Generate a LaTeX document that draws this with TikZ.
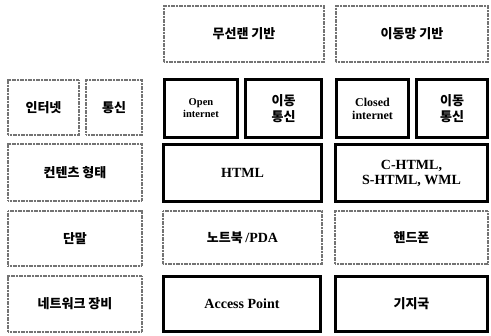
\documentclass[tikz,border=0pt]{standalone}
\usepackage{fontspec}
\setmainfont{Liberation Serif}
\newfontfamily\kr[BoldFont={Noto Sans CJK KR Black}]{Noto Sans CJK KR}
\begin{document}
\begin{tikzpicture}[x=1pt,y=-1pt,
  base/.style={inner sep=0pt, align=center, fill=white},
  lightbox/.style={base, draw=black!55, line width=1.8pt, dash pattern=on 1.2pt off 0.4pt},
  darkbox/.style={base, draw=black, line width=3pt},
  krt/.style={font=\kr\bfseries\fontsize{13}{15.5}\selectfont},
  ent/.style={font=\bfseries\fontsize{14}{15}\selectfont},
  ensm/.style={font=\bfseries\fontsize{10.5}{12}\selectfont},
  enmd/.style={font=\bfseries\fontsize{12}{13}\selectfont}]
\useasboundingbox (0,0) rectangle (491,336);
% top row
\node[lightbox, krt, minimum width=160, minimum height=56] (wlan) at (244,34) {무선랜 기반};
\node[lightbox, krt, minimum width=152, minimum height=56] (mob) at (412,34) {이동망 기반};
% row 2
\node[lightbox, krt, minimum width=71, minimum height=55] (inet) at (43.5,107.5) {인터넷};
\node[lightbox, krt, minimum width=56, minimum height=55] (comm) at (114,107.5) {통신};
\node[darkbox, ensm, minimum width=73, minimum height=58] (open) at (201,108.5) {Open\\internet};
\node[darkbox, krt, minimum width=76, minimum height=58] (mc1) at (283.5,108.5) {이동\\통신};
\node[darkbox, enmd, minimum width=72, minimum height=58] (closed) at (372.5,108.5) {Closed\\internet};
\node[darkbox, krt, minimum width=71, minimum height=58] (mc2) at (452,108.5) {이동\\통신};
% row 3
\node[lightbox, krt, minimum width=134, minimum height=57] (content) at (75,172.5) {컨텐츠 형태};
\node[darkbox, ent, minimum width=158, minimum height=57] (html) at (242.5,173) {HTML};
\node[darkbox, ent, minimum width=152, minimum height=57] (chtml) at (411.5,173) {C-HTML,\\S-HTML, WML};
% row 4
\node[lightbox, krt, minimum width=134, minimum height=55] (term) at (75,238.5) {단말};
\node[lightbox, minimum width=159, minimum height=53] (note) at (242.5,237.5) {{\kr\bfseries\fontsize{13}{15.5}\selectfont 노트북} {\bfseries\fontsize{14}{15}\selectfont /PDA}};
\node[lightbox, krt, minimum width=153, minimum height=53] (phone) at (411.5,237.5) {핸드폰};
% row 5
\node[lightbox, krt, minimum width=134, minimum height=56] (net) at (75,304) {네트워크 장비};
\node[darkbox, ent, minimum width=157, minimum height=55] (ap) at (242,304) {Access Point};
\node[darkbox, krt, minimum width=152, minimum height=55] (bs) at (411.5,304) {기지국};
\end{tikzpicture}
\end{document}
